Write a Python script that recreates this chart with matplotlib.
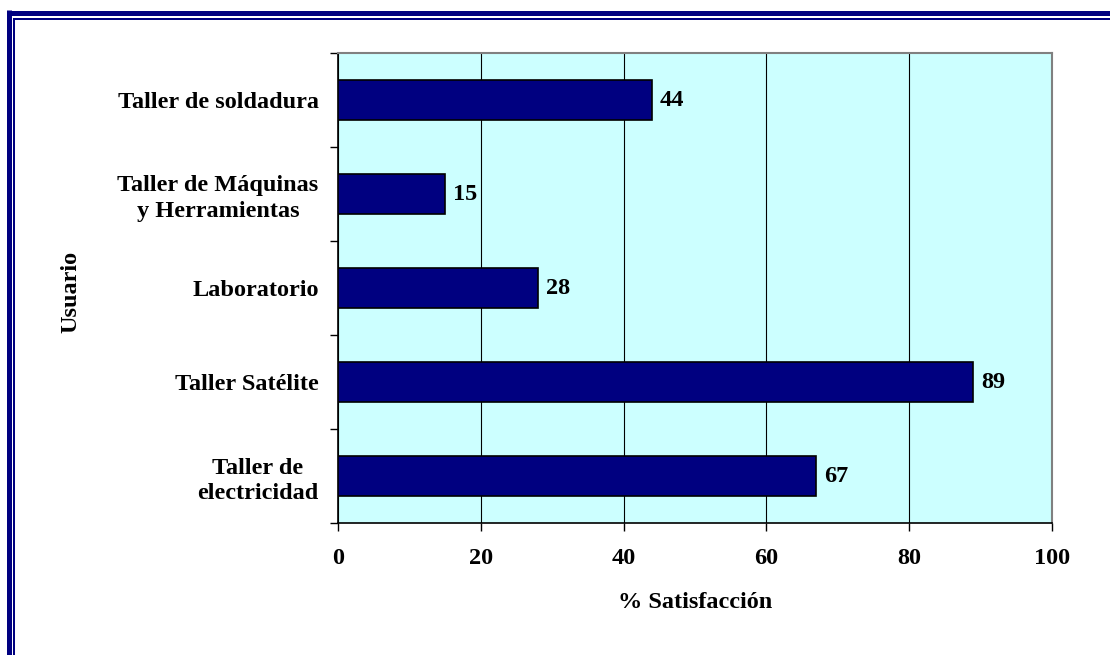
import matplotlib
matplotlib.use("Agg")
import matplotlib.pyplot as plt
from matplotlib.lines import Line2D
import numpy as np

categories = ["Taller de soldadura", "Taller de Máquinas\ny Herramientas",
              "Laboratorio", "Taller Satélite", "Taller de\nelectricidad"]
values = [44, 15, 28, 89, 67]
xticks = [0, 20, 40, 60, 80, 100]

plt.rcParams['font.family'] = ['Liberation Serif', 'DejaVu Serif']
plt.rcParams['font.weight'] = 'bold'
FS = 17.5

fig = plt.figure(figsize=(11.1, 6.55), dpi=100)
W, H = 1110, 655
ax = fig.add_axes([338 / W, 1 - 523 / H, (1052 - 338) / W, (523 - 53) / H])
ax.set_facecolor('#CCFFFF')

n = len(categories)
pos = np.arange(n)[::-1]
ax.barh(pos, values, height=0.42, color='#000080', edgecolor='black',
        linewidth=1.2, zorder=3)
for p, v in zip(pos, values):
    ax.text(v + 1.1, p, str(v), va='center', ha='left', fontsize=FS,
            fontweight='bold', color='black', zorder=4)

ax.set_xlim(0, 100)
ax.set_ylim(-0.5, n - 0.5)
ax.set_xticks(xticks)
ax.set_xticklabels([str(t) for t in xticks], fontsize=FS, fontweight='bold')
ax.set_yticks(pos)
ax.set_yticklabels(categories, fontsize=FS, fontweight='bold')
ax.set_yticks(np.arange(n + 1) - 0.5, minor=True)
ax.tick_params(axis='y', which='major', length=0, pad=14)
ax.tick_params(axis='y', which='minor', length=6, width=1, direction='out', color='black')
ax.tick_params(axis='x', which='major', length=6, width=1, direction='out', pad=12)
for t in ax.get_yticklabels():
    t.set_multialignment('center')
    t.set_linespacing(1.3)

ax.xaxis.grid(True, color='black', linewidth=0.8, zorder=1)
ax.set_axisbelow(True)

for s in ['left', 'bottom']:
    ax.spines[s].set_color('black')
    ax.spines[s].set_linewidth(1.2)
for s in ['top', 'right']:
    ax.spines[s].set_color('#808080')
    ax.spines[s].set_linewidth(1.5)

fig.text(695 / W, 1 - 603 / H, "% Satisfacción", ha='center', va='center',
         fontsize=FS, fontweight='bold')
fig.text(71 / W, 1 - 292 / H, "Usuario", ha='center', va='center',
         rotation=90, fontsize=FS, fontweight='bold')

navy = '#000080'
fig.add_artist(Line2D([8.5 / W, 1.0], [1 - 12.5 / H, 1 - 12.5 / H], color=navy,
                      linewidth=5 * 72 / 100, transform=fig.transFigure, solid_capstyle='butt'))
fig.add_artist(Line2D([8.5 / W, 8.5 / W], [1 - 10 / H, 0.0], color=navy,
                      linewidth=5 * 72 / 100, transform=fig.transFigure, solid_capstyle='butt'))
fig.add_artist(Line2D([14 / W, 1.0], [1 - 19 / H, 1 - 19 / H], color=navy,
                      linewidth=2 * 72 / 100, transform=fig.transFigure, solid_capstyle='butt'))
fig.add_artist(Line2D([14 / W, 14 / W], [1 - 18 / H, 0.0], color=navy,
                      linewidth=2 * 72 / 100, transform=fig.transFigure, solid_capstyle='butt'))

fig.savefig("out.png", dpi=100)
